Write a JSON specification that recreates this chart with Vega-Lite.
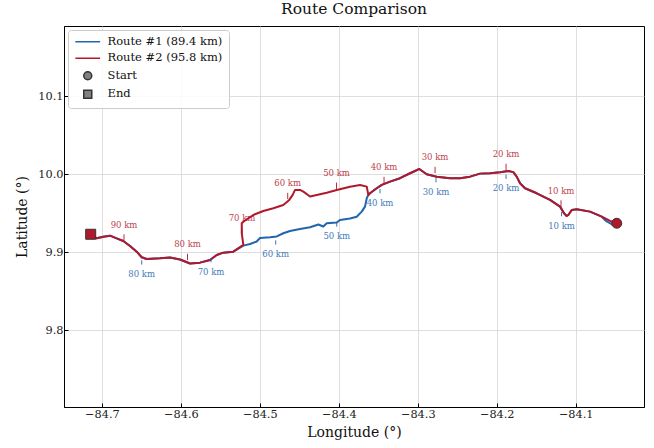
{
  "$schema": "https://vega.github.io/schema/vega-lite/v6.json",
  "width": 580,
  "height": 381,
  "autosize": {"type": "none"},
  "padding": {"left": 64, "top": 26, "right": 10, "bottom": 41},
  "title": {
    "text": "Route Comparison",
    "font": "DejaVu Serif",
    "fontSize": 15.5,
    "fontWeight": "normal",
    "color": "#111111",
    "offset": 9
  },
  "config": {
    "font": "DejaVu Serif",
    "view": {"stroke": "black", "strokeWidth": 1},
    "axis": {
      "labelFont": "DejaVu Serif",
      "titleFont": "DejaVu Serif",
      "labelFontSize": 11.3,
      "titleFontSize": 14,
      "titleFontWeight": "normal",
      "labelColor": "#222222",
      "titleColor": "#111111",
      "domainColor": "black",
      "tickColor": "black",
      "gridColor": "#d6d6d6",
      "gridWidth": 0.8,
      "tickSize": -4,
      "labelPadding": 5
    },
    "legend": {
      "title": null,
      "orient": "top-left",
      "offset": 4,
      "padding": 6,
      "fillColor": "rgba(255,255,255,0.85)",
      "strokeColor": "#cccccc",
      "cornerRadius": 3,
      "labelFont": "DejaVu Serif",
      "labelFontSize": 11.5,
      "labelColor": "#111111",
      "symbolSize": 64,
      "symbolStrokeWidth": 1.5,
      "rowPadding": 3.5,
      "symbolOffset": 8,
      "labelOffset": 14
    }
  },
  "datasets": {
    "routes": [
      {"series": "Route #1 (89.4 km)", "i": 0, "lon": -84.0480, "lat": 9.9372},
      {"series": "Route #1 (89.4 km)", "i": 1, "lon": -84.0540, "lat": 9.9356},
      {"series": "Route #1 (89.4 km)", "i": 2, "lon": -84.0616, "lat": 9.9401},
      {"series": "Route #1 (89.4 km)", "i": 3, "lon": -84.0670, "lat": 9.9456},
      {"series": "Route #1 (89.4 km)", "i": 4, "lon": -84.0818, "lat": 9.9521},
      {"series": "Route #1 (89.4 km)", "i": 5, "lon": -84.0987, "lat": 9.9551},
      {"series": "Route #1 (89.4 km)", "i": 6, "lon": -84.1050, "lat": 9.9542},
      {"series": "Route #1 (89.4 km)", "i": 7, "lon": -84.1093, "lat": 9.9478},
      {"series": "Route #1 (89.4 km)", "i": 8, "lon": -84.1114, "lat": 9.9465},
      {"series": "Route #1 (89.4 km)", "i": 9, "lon": -84.1148, "lat": 9.9500},
      {"series": "Route #1 (89.4 km)", "i": 10, "lon": -84.1198, "lat": 9.9585},
      {"series": "Route #1 (89.4 km)", "i": 11, "lon": -84.1325, "lat": 9.9671},
      {"series": "Route #1 (89.4 km)", "i": 12, "lon": -84.1493, "lat": 9.9756},
      {"series": "Route #1 (89.4 km)", "i": 13, "lon": -84.1642, "lat": 9.9821},
      {"series": "Route #1 (89.4 km)", "i": 14, "lon": -84.1705, "lat": 9.9885},
      {"series": "Route #1 (89.4 km)", "i": 15, "lon": -84.1747, "lat": 9.9969},
      {"series": "Route #1 (89.4 km)", "i": 16, "lon": -84.1790, "lat": 10.0027},
      {"series": "Route #1 (89.4 km)", "i": 17, "lon": -84.1853, "lat": 10.0042},
      {"series": "Route #1 (89.4 km)", "i": 18, "lon": -84.1958, "lat": 10.0026},
      {"series": "Route #1 (89.4 km)", "i": 19, "lon": -84.2085, "lat": 10.0013},
      {"series": "Route #1 (89.4 km)", "i": 20, "lon": -84.2212, "lat": 10.0008},
      {"series": "Route #1 (89.4 km)", "i": 21, "lon": -84.2338, "lat": 9.9969},
      {"series": "Route #1 (89.4 km)", "i": 22, "lon": -84.2465, "lat": 9.9949},
      {"series": "Route #1 (89.4 km)", "i": 23, "lon": -84.2591, "lat": 9.9949},
      {"series": "Route #1 (89.4 km)", "i": 24, "lon": -84.2760, "lat": 9.9969},
      {"series": "Route #1 (89.4 km)", "i": 25, "lon": -84.2887, "lat": 10.0000},
      {"series": "Route #1 (89.4 km)", "i": 26, "lon": -84.2980, "lat": 10.0068},
      {"series": "Route #1 (89.4 km)", "i": 27, "lon": -84.3035, "lat": 10.0042},
      {"series": "Route #1 (89.4 km)", "i": 28, "lon": -84.3098, "lat": 10.0013},
      {"series": "Route #1 (89.4 km)", "i": 29, "lon": -84.3225, "lat": 9.9949},
      {"series": "Route #1 (89.4 km)", "i": 30, "lon": -84.3351, "lat": 9.9905},
      {"series": "Route #1 (89.4 km)", "i": 31, "lon": -84.3456, "lat": 9.9863},
      {"series": "Route #1 (89.4 km)", "i": 32, "lon": -84.3520, "lat": 9.9821},
      {"series": "Route #1 (89.4 km)", "i": 33, "lon": -84.3605, "lat": 9.9756},
      {"series": "Route #1 (89.4 km)", "i": 34, "lon": -84.3626, "lat": 9.9735},
      {"series": "Route #1 (89.4 km)", "i": 35, "lon": -84.3646, "lat": 9.9692},
      {"series": "Route #1 (89.4 km)", "i": 36, "lon": -84.3668, "lat": 9.9585},
      {"series": "Route #1 (89.4 km)", "i": 37, "lon": -84.3710, "lat": 9.9521},
      {"series": "Route #1 (89.4 km)", "i": 38, "lon": -84.3773, "lat": 9.9456},
      {"series": "Route #1 (89.4 km)", "i": 39, "lon": -84.3858, "lat": 9.9433},
      {"series": "Route #1 (89.4 km)", "i": 40, "lon": -84.3985, "lat": 9.9414},
      {"series": "Route #1 (89.4 km)", "i": 41, "lon": -84.4026, "lat": 9.9382},
      {"series": "Route #1 (89.4 km)", "i": 42, "lon": -84.4153, "lat": 9.9372},
      {"series": "Route #1 (89.4 km)", "i": 43, "lon": -84.4196, "lat": 9.9331},
      {"series": "Route #1 (89.4 km)", "i": 44, "lon": -84.4259, "lat": 9.9356},
      {"series": "Route #1 (89.4 km)", "i": 45, "lon": -84.4364, "lat": 9.9321},
      {"series": "Route #1 (89.4 km)", "i": 46, "lon": -84.4491, "lat": 9.9299},
      {"series": "Route #1 (89.4 km)", "i": 47, "lon": -84.4618, "lat": 9.9273},
      {"series": "Route #1 (89.4 km)", "i": 48, "lon": -84.4703, "lat": 9.9244},
      {"series": "Route #1 (89.4 km)", "i": 49, "lon": -84.4786, "lat": 9.9203},
      {"series": "Route #1 (89.4 km)", "i": 50, "lon": -84.4871, "lat": 9.9192},
      {"series": "Route #1 (89.4 km)", "i": 51, "lon": -84.4998, "lat": 9.9183},
      {"series": "Route #1 (89.4 km)", "i": 52, "lon": -84.5040, "lat": 9.9138},
      {"series": "Route #1 (89.4 km)", "i": 53, "lon": -84.5124, "lat": 9.9106},
      {"series": "Route #1 (89.4 km)", "i": 54, "lon": -84.5209, "lat": 9.9085},
      {"series": "Route #1 (89.4 km)", "i": 55, "lon": -84.5336, "lat": 9.9008},
      {"series": "Route #1 (89.4 km)", "i": 56, "lon": -84.5463, "lat": 9.8995},
      {"series": "Route #1 (89.4 km)", "i": 57, "lon": -84.5546, "lat": 9.8965},
      {"series": "Route #1 (89.4 km)", "i": 58, "lon": -84.5631, "lat": 9.8901},
      {"series": "Route #1 (89.4 km)", "i": 59, "lon": -84.5758, "lat": 9.8867},
      {"series": "Route #1 (89.4 km)", "i": 60, "lon": -84.5884, "lat": 9.8856},
      {"series": "Route #1 (89.4 km)", "i": 61, "lon": -84.6011, "lat": 9.8908},
      {"series": "Route #1 (89.4 km)", "i": 62, "lon": -84.6138, "lat": 9.8933},
      {"series": "Route #1 (89.4 km)", "i": 63, "lon": -84.6264, "lat": 9.8923},
      {"series": "Route #1 (89.4 km)", "i": 64, "lon": -84.6433, "lat": 9.8914},
      {"series": "Route #1 (89.4 km)", "i": 65, "lon": -84.6496, "lat": 9.8936},
      {"series": "Route #1 (89.4 km)", "i": 66, "lon": -84.6559, "lat": 9.9008},
      {"series": "Route #1 (89.4 km)", "i": 67, "lon": -84.6644, "lat": 9.9081},
      {"series": "Route #1 (89.4 km)", "i": 68, "lon": -84.6729, "lat": 9.9145},
      {"series": "Route #1 (89.4 km)", "i": 69, "lon": -84.6813, "lat": 9.9179},
      {"series": "Route #1 (89.4 km)", "i": 70, "lon": -84.6897, "lat": 9.9213},
      {"series": "Route #1 (89.4 km)", "i": 71, "lon": -84.6982, "lat": 9.9200},
      {"series": "Route #1 (89.4 km)", "i": 72, "lon": -84.7066, "lat": 9.9179},
      {"series": "Route #1 (89.4 km)", "i": 73, "lon": -84.7142, "lat": 9.9231},

      {"series": "Route #2 (95.8 km)", "i": 0, "lon": -84.0480, "lat": 9.9372},
      {"series": "Route #2 (95.8 km)", "i": 1, "lon": -84.0565, "lat": 9.9401},
      {"series": "Route #2 (95.8 km)", "i": 2, "lon": -84.0670, "lat": 9.9456},
      {"series": "Route #2 (95.8 km)", "i": 3, "lon": -84.0818, "lat": 9.9521},
      {"series": "Route #2 (95.8 km)", "i": 4, "lon": -84.0987, "lat": 9.9551},
      {"series": "Route #2 (95.8 km)", "i": 5, "lon": -84.1050, "lat": 9.9542},
      {"series": "Route #2 (95.8 km)", "i": 6, "lon": -84.1093, "lat": 9.9478},
      {"series": "Route #2 (95.8 km)", "i": 7, "lon": -84.1114, "lat": 9.9465},
      {"series": "Route #2 (95.8 km)", "i": 8, "lon": -84.1148, "lat": 9.9500},
      {"series": "Route #2 (95.8 km)", "i": 9, "lon": -84.1198, "lat": 9.9585},
      {"series": "Route #2 (95.8 km)", "i": 10, "lon": -84.1325, "lat": 9.9671},
      {"series": "Route #2 (95.8 km)", "i": 11, "lon": -84.1493, "lat": 9.9756},
      {"series": "Route #2 (95.8 km)", "i": 12, "lon": -84.1642, "lat": 9.9821},
      {"series": "Route #2 (95.8 km)", "i": 13, "lon": -84.1705, "lat": 9.9885},
      {"series": "Route #2 (95.8 km)", "i": 14, "lon": -84.1747, "lat": 9.9969},
      {"series": "Route #2 (95.8 km)", "i": 15, "lon": -84.1790, "lat": 10.0027},
      {"series": "Route #2 (95.8 km)", "i": 16, "lon": -84.1853, "lat": 10.0042},
      {"series": "Route #2 (95.8 km)", "i": 17, "lon": -84.1958, "lat": 10.0026},
      {"series": "Route #2 (95.8 km)", "i": 18, "lon": -84.2085, "lat": 10.0013},
      {"series": "Route #2 (95.8 km)", "i": 19, "lon": -84.2212, "lat": 10.0008},
      {"series": "Route #2 (95.8 km)", "i": 20, "lon": -84.2338, "lat": 9.9969},
      {"series": "Route #2 (95.8 km)", "i": 21, "lon": -84.2465, "lat": 9.9949},
      {"series": "Route #2 (95.8 km)", "i": 22, "lon": -84.2591, "lat": 9.9949},
      {"series": "Route #2 (95.8 km)", "i": 23, "lon": -84.2760, "lat": 9.9969},
      {"series": "Route #2 (95.8 km)", "i": 24, "lon": -84.2887, "lat": 10.0000},
      {"series": "Route #2 (95.8 km)", "i": 25, "lon": -84.2980, "lat": 10.0068},
      {"series": "Route #2 (95.8 km)", "i": 26, "lon": -84.3035, "lat": 10.0042},
      {"series": "Route #2 (95.8 km)", "i": 27, "lon": -84.3098, "lat": 10.0013},
      {"series": "Route #2 (95.8 km)", "i": 28, "lon": -84.3225, "lat": 9.9949},
      {"series": "Route #2 (95.8 km)", "i": 29, "lon": -84.3351, "lat": 9.9905},
      {"series": "Route #2 (95.8 km)", "i": 30, "lon": -84.3456, "lat": 9.9863},
      {"series": "Route #2 (95.8 km)", "i": 31, "lon": -84.3520, "lat": 9.9821},
      {"series": "Route #2 (95.8 km)", "i": 32, "lon": -84.3605, "lat": 9.9756},
      {"series": "Route #2 (95.8 km)", "i": 33, "lon": -84.3626, "lat": 9.9735},
      {"series": "Route #2 (95.8 km)", "i": 34, "lon": -84.3646, "lat": 9.9841},
      {"series": "Route #2 (95.8 km)", "i": 35, "lon": -84.3731, "lat": 9.9863},
      {"series": "Route #2 (95.8 km)", "i": 36, "lon": -84.3858, "lat": 9.9841},
      {"series": "Route #2 (95.8 km)", "i": 37, "lon": -84.4026, "lat": 9.9799},
      {"series": "Route #2 (95.8 km)", "i": 38, "lon": -84.4153, "lat": 9.9764},
      {"series": "Route #2 (95.8 km)", "i": 39, "lon": -84.4280, "lat": 9.9735},
      {"series": "Route #2 (95.8 km)", "i": 40, "lon": -84.4364, "lat": 9.9715},
      {"series": "Route #2 (95.8 km)", "i": 41, "lon": -84.4449, "lat": 9.9777},
      {"series": "Route #2 (95.8 km)", "i": 42, "lon": -84.4491, "lat": 9.9799},
      {"series": "Route #2 (95.8 km)", "i": 43, "lon": -84.4554, "lat": 9.9799},
      {"series": "Route #2 (95.8 km)", "i": 44, "lon": -84.4584, "lat": 9.9735},
      {"series": "Route #2 (95.8 km)", "i": 45, "lon": -84.4627, "lat": 9.9671},
      {"series": "Route #2 (95.8 km)", "i": 46, "lon": -84.4703, "lat": 9.9606},
      {"series": "Route #2 (95.8 km)", "i": 47, "lon": -84.4829, "lat": 9.9564},
      {"series": "Route #2 (95.8 km)", "i": 48, "lon": -84.4956, "lat": 9.9529},
      {"series": "Route #2 (95.8 km)", "i": 49, "lon": -84.5083, "lat": 9.9478},
      {"series": "Route #2 (95.8 km)", "i": 50, "lon": -84.5209, "lat": 9.9392},
      {"series": "Route #2 (95.8 km)", "i": 51, "lon": -84.5229, "lat": 9.9372},
      {"series": "Route #2 (95.8 km)", "i": 52, "lon": -84.5229, "lat": 9.9244},
      {"series": "Route #2 (95.8 km)", "i": 53, "lon": -84.5209, "lat": 9.9094},
      {"series": "Route #2 (95.8 km)", "i": 54, "lon": -84.5336, "lat": 9.9008},
      {"series": "Route #2 (95.8 km)", "i": 55, "lon": -84.5463, "lat": 9.8995},
      {"series": "Route #2 (95.8 km)", "i": 56, "lon": -84.5546, "lat": 9.8965},
      {"series": "Route #2 (95.8 km)", "i": 57, "lon": -84.5631, "lat": 9.8901},
      {"series": "Route #2 (95.8 km)", "i": 58, "lon": -84.5758, "lat": 9.8867},
      {"series": "Route #2 (95.8 km)", "i": 59, "lon": -84.5884, "lat": 9.8856},
      {"series": "Route #2 (95.8 km)", "i": 60, "lon": -84.6011, "lat": 9.8908},
      {"series": "Route #2 (95.8 km)", "i": 61, "lon": -84.6138, "lat": 9.8933},
      {"series": "Route #2 (95.8 km)", "i": 62, "lon": -84.6264, "lat": 9.8923},
      {"series": "Route #2 (95.8 km)", "i": 63, "lon": -84.6433, "lat": 9.8914},
      {"series": "Route #2 (95.8 km)", "i": 64, "lon": -84.6496, "lat": 9.8936},
      {"series": "Route #2 (95.8 km)", "i": 65, "lon": -84.6559, "lat": 9.9008},
      {"series": "Route #2 (95.8 km)", "i": 66, "lon": -84.6644, "lat": 9.9081},
      {"series": "Route #2 (95.8 km)", "i": 67, "lon": -84.6729, "lat": 9.9145},
      {"series": "Route #2 (95.8 km)", "i": 68, "lon": -84.6813, "lat": 9.9179},
      {"series": "Route #2 (95.8 km)", "i": 69, "lon": -84.6897, "lat": 9.9213},
      {"series": "Route #2 (95.8 km)", "i": 70, "lon": -84.6982, "lat": 9.9200},
      {"series": "Route #2 (95.8 km)", "i": 71, "lon": -84.7066, "lat": 9.9179},
      {"series": "Route #2 (95.8 km)", "i": 72, "lon": -84.7142, "lat": 9.9231}
    ],
    "distances": [
      {"route": 1, "label": "10 km", "lon": -84.1179, "lat": 9.9559},
      {"route": 1, "label": "20 km", "lon": -84.1882, "lat": 10.0038},
      {"route": 1, "label": "30 km", "lon": -84.2769, "lat": 9.9995},
      {"route": 1, "label": "40 km", "lon": -84.3478, "lat": 9.9854},
      {"route": 1, "label": "50 km", "lon": -84.4026, "lat": 9.9427},
      {"route": 1, "label": "60 km", "lon": -84.4799, "lat": 9.9196},
      {"route": 1, "label": "70 km", "lon": -84.5618, "lat": 9.8969},
      {"route": 1, "label": "80 km", "lon": -84.6496, "lat": 9.8940},
      {"route": 2, "label": "10 km", "lon": -84.1186, "lat": 9.9568},
      {"route": 2, "label": "20 km", "lon": -84.1882, "lat": 10.0036},
      {"route": 2, "label": "30 km", "lon": -84.2781, "lat": 9.9997},
      {"route": 2, "label": "40 km", "lon": -84.3427, "lat": 9.9869},
      {"route": 2, "label": "50 km", "lon": -84.4029, "lat": 9.9795},
      {"route": 2, "label": "60 km", "lon": -84.4647, "lat": 9.9664},
      {"route": 2, "label": "70 km", "lon": -84.5226, "lat": 9.9222},
      {"route": 2, "label": "80 km", "lon": -84.5916, "lat": 9.8882},
      {"route": 2, "label": "90 km", "lon": -84.6720, "lat": 9.9132}
    ],
    "endpoints": [
      {"series": "Start", "lon": -84.0480, "lat": 9.9372},
      {"series": "End", "lon": -84.7142, "lat": 9.9231}
    ]
  },
  "encoding": {
    "x": {
      "field": "lon",
      "type": "quantitative",
      "title": "Longitude (°)",
      "scale": {"domain": [-84.748, -84.0135], "nice": false, "zero": false},
      "axis": {"values": [-84.7, -84.6, -84.5, -84.4, -84.3, -84.2, -84.1], "format": ".1f", "titlePadding": 6}
    },
    "y": {
      "field": "lat",
      "type": "quantitative",
      "title": "Latitude (°)",
      "scale": {"domain": [9.7017, 10.19], "nice": false, "zero": false},
      "axis": {"values": [9.8, 9.9, 10.0, 10.1], "format": ".1f", "titlePadding": 8}
    }
  },
  "layer": [
    {
      "data": {"name": "routes"},
      "transform": [{"filter": "datum.series === 'Route #1 (89.4 km)'"}],
      "mark": {"type": "line", "strokeWidth": 2, "strokeJoin": "round", "strokeCap": "round"},
      "encoding": {
        "order": {"field": "i", "type": "quantitative"},
        "stroke": {
          "field": "series",
          "type": "nominal",
          "scale": {
            "domain": ["Route #1 (89.4 km)", "Route #2 (95.8 km)", "Start", "End"],
            "range": ["#2166ac", "#b2182b", "#333333", "#333333"]
          },
          "legend": {"encode": {"symbols": {"update": {"fill": {"value": "#808080"}, "size": {"value": 64}, "strokeWidth": {"value": 1.5}}}}}
        }
      }
    },
    {
      "data": {"name": "routes"},
      "transform": [{"filter": "datum.series === 'Route #2 (95.8 km)'"}],
      "mark": {"type": "line", "strokeWidth": 2, "strokeJoin": "round", "strokeCap": "round"},
      "encoding": {
        "order": {"field": "i", "type": "quantitative"},
        "stroke": {
          "field": "series",
          "type": "nominal",
          "scale": {
            "domain": ["Route #1 (89.4 km)", "Route #2 (95.8 km)", "Start", "End"],
            "range": ["#2166ac", "#b2182b", "#333333", "#333333"]
          },
          "legend": {"encode": {"symbols": {"update": {"fill": {"value": "#808080"}, "size": {"value": 64}, "strokeWidth": {"value": 1.5}}}}}
        }
      }
    },
    {
      "data": {"name": "distances"},
      "transform": [{"filter": "datum.route === 1"}],
      "mark": {"type": "point", "shape": "M0,0.38L0,0.85", "filled": false, "size": 324, "strokeWidth": 1, "color": "#2166ac", "opacity": 0.9}
    },
    {
      "data": {"name": "distances"},
      "transform": [{"filter": "datum.route === 2"}],
      "mark": {"type": "point", "shape": "M0,-0.15L0,-0.85", "filled": false, "size": 324, "strokeWidth": 1, "color": "#b2182b", "opacity": 0.9}
    },
    {
      "data": {"name": "distances"},
      "transform": [{"filter": "datum.route === 1"}],
      "mark": {"type": "text", "dy": 17, "baseline": "middle", "align": "center", "font": "DejaVu Serif", "fontSize": 8.5, "color": "#2166ac", "opacity": 0.85},
      "encoding": {"text": {"field": "label"}}
    },
    {
      "data": {"name": "distances"},
      "transform": [{"filter": "datum.route === 2"}],
      "mark": {"type": "text", "dy": -17, "baseline": "middle", "align": "center", "font": "DejaVu Serif", "fontSize": 8.5, "color": "#b2182b", "opacity": 0.85},
      "encoding": {"text": {"field": "label"}}
    },
    {
      "data": {"name": "endpoints"},
      "mark": {"type": "point", "filled": true, "fill": "#b2182b", "size": 100, "strokeWidth": 1, "opacity": 1},
      "encoding": {
        "stroke": {
          "field": "series",
          "type": "nominal",
          "scale": {
            "domain": ["Route #1 (89.4 km)", "Route #2 (95.8 km)", "Start", "End"],
            "range": ["#2166ac", "#b2182b", "#333333", "#333333"]
          },
          "legend": {"encode": {"symbols": {"update": {"fill": {"value": "#808080"}, "size": {"value": 64}, "strokeWidth": {"value": 1.5}}}}}
        },
        "shape": {
          "field": "series",
          "type": "nominal",
          "scale": {
            "domain": ["Route #1 (89.4 km)", "Route #2 (95.8 km)", "Start", "End"],
            "range": ["M-3.1,0L3.1,0", "M-3.1,0L3.1,0", "circle", "square"]
          },
          "legend": {"encode": {"symbols": {"update": {"fill": {"value": "#808080"}, "size": {"value": 64}, "strokeWidth": {"value": 1.5}}}}}
        }
      }
    }
  ]
}
